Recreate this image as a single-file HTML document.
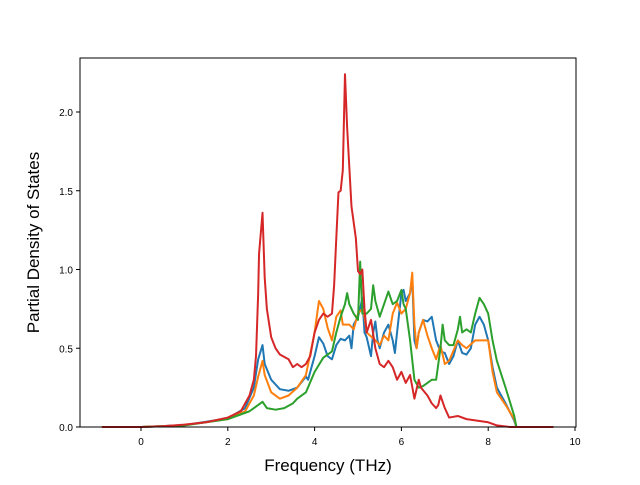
<!DOCTYPE html>
<html><head><meta charset="utf-8"><style>
body{margin:0;background:#fff;font-family:"Liberation Sans",sans-serif}
svg text{font-family:"Liberation Sans",sans-serif}
</style></head><body>
<svg id="chart" width="640" height="480"></svg>
<script>
const xTickLabels=["0","2","4","6","8","10"];
const yTickLabels=["0.0","0.5","1.0","1.5","2.0"];
const redX=[-0.9,0,0.5,1,1.5,2,2.3,2.5,2.6,2.65,2.7,2.72,2.8,2.85,2.9,3.0,3.1,3.2,3.4,3.5,3.6,3.7,3.8,3.9,4.0,4.1,4.2,4.3,4.4,4.45,4.5,4.55,4.6,4.65,4.7,4.75,4.85,4.95,5.0,5.05,5.1,5.15,5.2,5.3,5.4,5.5,5.6,5.7,5.8,5.9,6.0,6.1,6.2,6.3,6.4,6.45,6.6,6.7,6.8,6.85,6.9,7.0,7.1,7.3,7.5,8.0,8.2,8.5,9.5];
const redY=[0,0,0.005,0.015,0.03,0.06,0.1,0.2,0.3,0.45,0.85,1.1,1.36,0.95,0.75,0.57,0.5,0.46,0.43,0.38,0.4,0.38,0.4,0.45,0.6,0.68,0.72,0.7,0.72,0.9,1.2,1.49,1.5,1.63,2.24,1.9,1.4,1.2,0.99,0.97,1.0,0.75,0.6,0.68,0.5,0.4,0.38,0.42,0.38,0.3,0.35,0.28,0.33,0.18,0.3,0.25,0.2,0.15,0.12,0.14,0.2,0.12,0.06,0.07,0.05,0.03,0.01,0,0];
const blueX=[-0.9,0,1,2,2.4,2.6,2.7,2.8,2.85,3.0,3.2,3.4,3.6,3.8,3.85,4.0,4.1,4.2,4.3,4.4,4.5,4.6,4.7,4.8,4.85,4.9,5.0,5.05,5.1,5.15,5.2,5.3,5.35,5.4,5.45,5.5,5.6,5.7,5.8,5.85,5.9,6.0,6.05,6.1,6.2,6.25,6.3,6.35,6.4,6.5,6.6,6.7,6.8,6.9,7.0,7.1,7.2,7.3,7.4,7.5,7.6,7.7,7.8,7.9,8.0,8.1,8.2,8.4,8.6,8.65,9.5];
const blueY=[0,0,0.012,0.055,0.12,0.25,0.43,0.52,0.4,0.3,0.24,0.23,0.25,0.32,0.3,0.45,0.57,0.53,0.45,0.43,0.52,0.56,0.55,0.58,0.5,0.65,0.7,0.75,0.82,0.6,0.57,0.45,0.6,0.67,0.55,0.5,0.6,0.65,0.55,0.47,0.6,0.85,0.87,0.8,0.85,0.95,0.55,0.5,0.6,0.68,0.67,0.7,0.55,0.48,0.47,0.4,0.45,0.55,0.47,0.46,0.5,0.65,0.7,0.65,0.55,0.38,0.25,0.15,0.04,0,0];
const orangeX=[-0.9,0,1,2,2.4,2.6,2.7,2.8,2.85,3.0,3.2,3.4,3.6,3.8,4.0,4.1,4.2,4.3,4.4,4.5,4.6,4.65,4.8,4.9,5.0,5.1,5.15,5.2,5.4,5.5,5.6,5.7,5.8,5.9,6.0,6.1,6.2,6.25,6.3,6.35,6.4,6.5,6.6,6.7,6.8,6.9,7.0,7.1,7.3,7.4,7.5,7.7,7.9,8.0,8.1,8.2,8.4,8.6,8.65,9.5];
const orangeY=[0,0,0.011,0.05,0.1,0.2,0.32,0.42,0.33,0.22,0.18,0.2,0.25,0.33,0.6,0.8,0.75,0.63,0.55,0.7,0.74,0.65,0.65,0.62,0.72,0.75,0.7,0.6,0.55,0.52,0.58,0.55,0.72,0.79,0.72,0.75,0.85,0.98,0.65,0.5,0.6,0.68,0.58,0.5,0.43,0.52,0.4,0.42,0.55,0.52,0.5,0.55,0.55,0.55,0.35,0.22,0.14,0.05,0,0];
const greenX=[-0.9,0,1,2,2.5,2.8,2.9,3.1,3.3,3.5,3.6,3.8,4.0,4.2,4.4,4.5,4.6,4.7,4.75,4.8,4.9,5.0,5.05,5.1,5.2,5.3,5.35,5.4,5.5,5.6,5.7,5.8,5.9,6.0,6.05,6.1,6.2,6.3,6.4,6.5,6.7,6.8,6.9,6.95,7.0,7.1,7.2,7.3,7.35,7.4,7.5,7.6,7.7,7.8,7.9,8.0,8.1,8.2,8.4,8.6,8.65,9.5];
const greenY=[0,0,0.01,0.05,0.1,0.16,0.12,0.11,0.12,0.15,0.18,0.22,0.35,0.44,0.48,0.6,0.7,0.78,0.85,0.78,0.72,0.68,1.05,0.72,0.72,0.75,0.9,0.8,0.7,0.78,0.86,0.78,0.8,0.87,0.78,0.75,0.55,0.3,0.25,0.26,0.3,0.3,0.5,0.65,0.55,0.52,0.52,0.62,0.7,0.6,0.62,0.6,0.72,0.82,0.78,0.72,0.55,0.42,0.25,0.07,0,0];
const L=80,R=576,T=58,B=427;
const sx=v=>141+v*43.4;
const sy=v=>427-v*157.5;
const svg=document.getElementById('chart');
const NS='http://www.w3.org/2000/svg';
function mk(tag,attrs){const e=document.createElementNS(NS,tag);for(const k in attrs)e.setAttribute(k,attrs[k]);svg.appendChild(e);return e;}
const series=[[blueX,blueY,'#1f77b4','series-blue'],[orangeX,orangeY,'#ff7f0e','series-orange'],[greenX,greenY,'#2ca02c','series-green'],[redX,redY,'#d62728','series-red']];
for(const s of series){
  const p=mk('polyline',{points:s[0].map((x,i)=>sx(x)+','+sy(s[1][i])).join(' '),fill:'none',stroke:s[2],'stroke-width':2,'stroke-linejoin':'round'});
  
  
}
const frame=mk('rect',{x:L,y:T,width:R-L,height:B-T,fill:'none',stroke:'#000','stroke-width':1});


xTickLabels.forEach(t=>{
  const x=sx(+t);
  const tk=mk('line',{x1:x,x2:x,y1:B,y2:B+4,stroke:'#000'});
  
  
  const tx=mk('text',{x:x,y:B+18,'text-anchor':'middle','font-size':10});
  tx.textContent=t;
  
  
});
yTickLabels.forEach(t=>{
  const y=sy(+t);
  const tk=mk('line',{x1:L-4,x2:L,y1:y,y2:y,stroke:'#000'});
  
  
  const tx=mk('text',{x:L-7,y:y+4,'text-anchor':'end','font-size':10});
  tx.textContent=t;
  
  
});
const xl=mk('text',{x:(L+R)/2,y:471,'text-anchor':'middle','font-size':17});
xl.textContent='Frequency (THz)';


const yl=mk('text',{x:0,y:0,'text-anchor':'middle','font-size':17,transform:'translate(39,'+((T+B)/2)+') rotate(-90)'});
yl.textContent='Partial Density of States';


</script>
</body></html>
